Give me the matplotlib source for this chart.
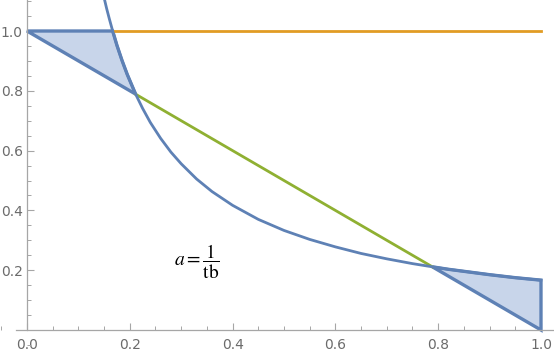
import numpy as np
import matplotlib
matplotlib.use("Agg")
import matplotlib.pyplot as plt
from matplotlib.ticker import MultipleLocator

# hyperbola a = 1/(t b) (passes y=1 near x=0.167)
curve_x = [0.150, 0.155, 0.160, 0.1667, 0.175, 0.185, 0.195, 0.2113, 0.225, 0.24,
           0.26, 0.28, 0.30, 0.33, 0.36, 0.40, 0.45, 0.50, 0.55, 0.60, 0.65,
           0.70, 0.75, 0.7887, 0.82, 0.86, 0.90, 0.95, 1.00]
curve_y = [1.111, 1.075, 1.042, 1.000, 0.952, 0.901, 0.855, 0.789, 0.741, 0.694,
           0.641, 0.595, 0.556, 0.505, 0.463, 0.417, 0.370, 0.333, 0.303, 0.278, 0.256,
           0.238, 0.222, 0.2113, 0.203, 0.194, 0.185, 0.175, 0.1667]
# straight line from (0,1) to (1,0), and the crossings with the curve
diag_x = [0.0, 1.0]
diag_y = [1.0, 0.0]
cross_lo = (0.2113, 0.7887)
cross_hi = (0.7887, 0.2113)
top_start = 0.1667          # orange line y=1 begins where the curve meets it
top_level = 1.0

BLUE = "#5E81B5"
ORANGE = "#E19C24"
GREEN = "#8FB032"
FILL = "#c8d5ea"
AXC = "#a6a6a6"
LBL = "#6b6b6b"

cx = np.array(curve_x)
cy = np.array(curve_y)

fig = plt.figure(figsize=(5.54, 3.57), dpi=100)
ax = fig.add_axes([0, 0, 1, 1])
ax.set_xlim(-0.0525, 1.0253)
ax.set_ylim(-0.0903, 1.1037)

# shaded region near the top-left corner
m1 = (cx >= top_start - 1e-9) & (cx <= cross_lo[0] + 1e-9)
p1x = [diag_x[0]] + list(cx[m1]) + [diag_x[0]]
p1y = [diag_y[0]] + list(cy[m1]) + [diag_y[0]]
ax.fill(p1x, p1y, facecolor=FILL, edgecolor=BLUE, lw=2.4, zorder=2,
        joinstyle="miter")

# shaded region near the bottom-right corner
m2 = cx >= cross_hi[0] - 1e-9
p2x = list(cx[m2]) + [diag_x[1], cross_hi[0]]
p2y = list(cy[m2]) + [diag_y[1], cross_hi[1]]
ax.fill(p2x, p2y, facecolor=FILL, edgecolor=BLUE, lw=2.4, zorder=2,
        joinstyle="miter")

ax.plot([top_start, 1.0], [top_level, top_level], color=ORANGE, lw=2, zorder=3)
ax.plot([cross_lo[0], cross_hi[0]], [cross_lo[1], cross_hi[1]], color=GREEN, lw=2, zorder=3)
ax.plot(curve_x, curve_y, color=BLUE, lw=2, zorder=4, solid_joinstyle="round")

plt.rcParams["mathtext.fontset"] = "stix"
ax.text(0.33, 0.227, r"$a=\dfrac{1}{\mathrm{tb}}$", fontsize=14, color="black",
        ha="center", va="center")

# Mathematica-like axes
for s in ("top", "right"):
    ax.spines[s].set_visible(False)
ax.spines["bottom"].set_position(("data", 0))
ax.spines["left"].set_position(("data", 0))
ax.spines["bottom"].set_bounds(-0.021, 1.0253)
ax.spines["left"].set_bounds(0, 1.1037)
for s in ("bottom", "left"):
    ax.spines[s].set_color(AXC)
    ax.spines[s].set_linewidth(0.9)

ax.set_xticks([0.0, 0.2, 0.4, 0.6, 0.8, 1.0])
ax.set_xticklabels(["0.0", "0.2", "0.4", "0.6", "0.8", "1.0"])
ax.set_yticks([0.2, 0.4, 0.6, 0.8, 1.0])
ax.set_yticklabels(["0.2", "0.4", "0.6", "0.8", "1.0"])
ax.xaxis.set_minor_locator(MultipleLocator(0.05))
ax.yaxis.set_minor_locator(MultipleLocator(0.05))
ax.tick_params(which="major", direction="in", length=5, width=0.8, color=AXC,
               labelcolor=LBL, labelsize=10)
ax.tick_params(which="minor", direction="in", length=3, width=0.7, color=AXC)
ax.tick_params(axis="x", which="major", pad=6)
ax.tick_params(axis="y", which="major", pad=3)

fig.savefig("out.png", dpi=100)
